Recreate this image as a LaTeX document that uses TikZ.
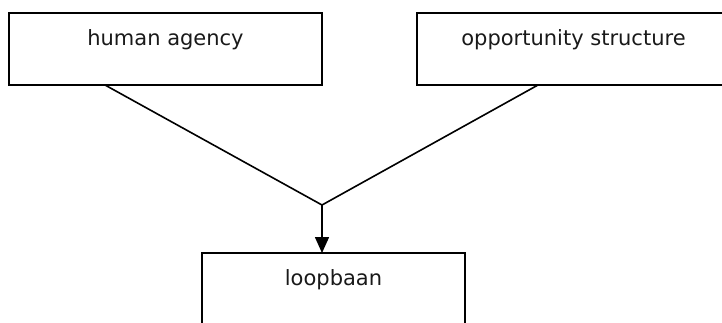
\documentclass[tikz,border=0pt]{standalone}
\usepackage{fontspec}
\setmainfont{DejaVu Sans}
\usetikzlibrary{arrows.meta}
\begin{document}
\begin{tikzpicture}[x=1pt,y=-1pt,
  box/.style={draw=black, line width=1.6pt, rectangle, inner sep=0pt, outer sep=0pt, anchor=north west},
  lbl/.style={inner sep=0pt, anchor=base, font=\fontsize{21}{25}\selectfont, text=black!90},
  link/.style={draw=black, line width=1.6pt},
  arr/.style={link, -{Triangle[length=16pt,width=14pt]}}]
  \useasboundingbox (0,0) rectangle (722,322);
  \clip (0,0) rectangle (722,322);
  % boxes
  \node[box, minimum width=313pt, minimum height=72pt] (ha) at (9,13) {};
  \node[box, minimum width=313pt, minimum height=72pt] (os) at (417,13) {};
  \node[box, minimum width=263pt, minimum height=100pt] (lb) at (202,253) {};
  % labels, set near the top of each box
  \node[lbl] (haT) at ([yshift=-32pt]ha.north) {human agency};
  \node[lbl] (osT) at ([yshift=-32pt]os.north) {opportunity structure};
  \node[lbl] (lbT) at ([yshift=-32pt]lb.north) {loopbaan};
  % connector ends
  \coordinate (haOut) at ([xshift=96pt]ha.south west);
  \coordinate (osOut) at ([xshift=121pt]os.south west);
  \coordinate (join) at (322,205);
  \coordinate (lbIn) at ([xshift=120pt]lb.north west);
  \draw[link] (haOut) -- (join) -- (osOut);
  \draw[arr] (join) -- (lbIn);
\end{tikzpicture}
\end{document}
